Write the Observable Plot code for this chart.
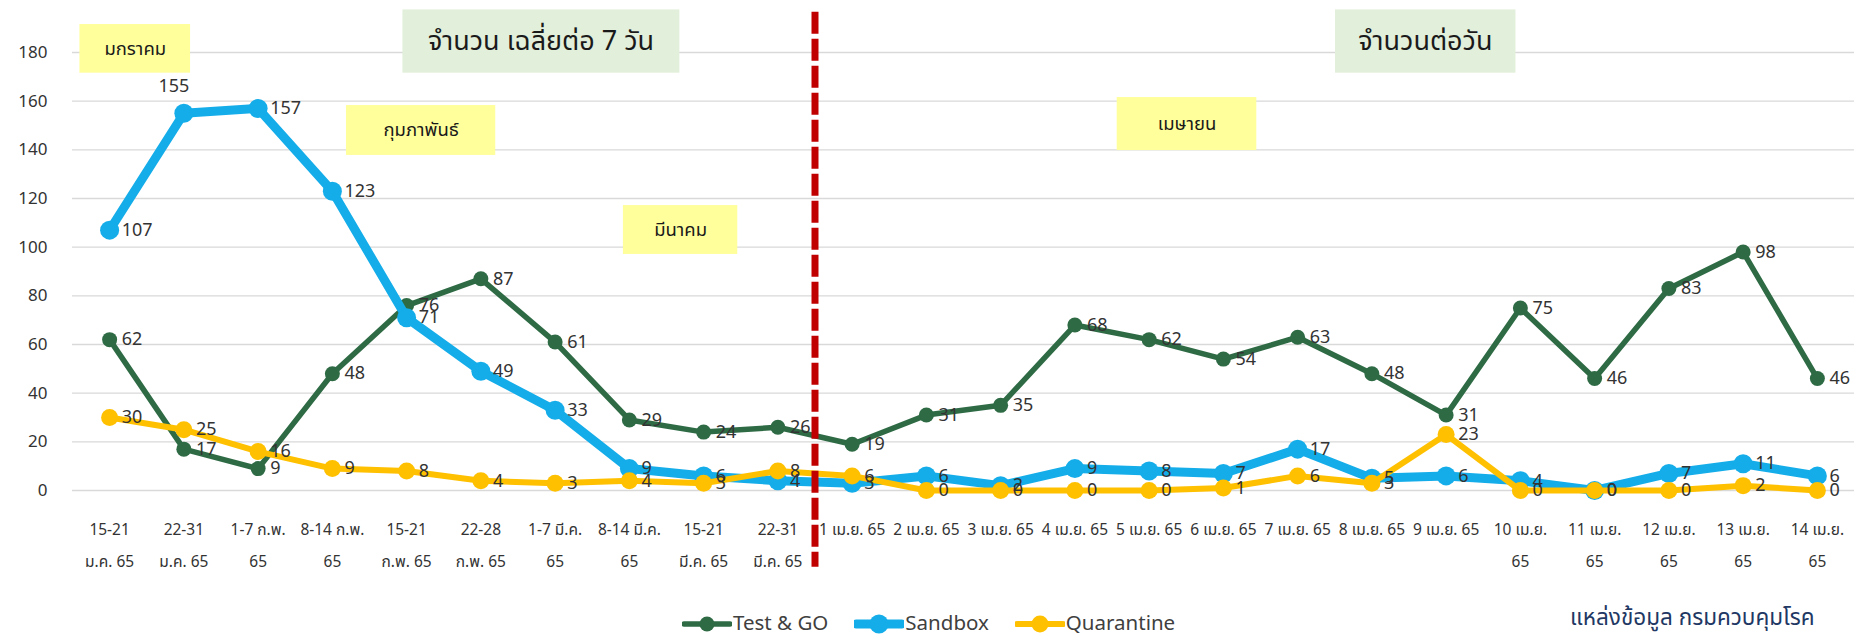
<!DOCTYPE html>
<html>
<head>
<meta charset="utf-8">
<script src="https://cdn.jsdelivr.net/npm/d3@7"></script>
<script src="https://cdn.jsdelivr.net/npm/@observablehq/plot@0.6"></script>
<style>
  body { margin: 0; background: #fff; font-family: "Tahoma", "Noto Sans Thai", "Loma", "Garuda", "Noto Sans", sans-serif; }
  #wrap { position: relative; width: 1854px; height: 640px; overflow: hidden; }
  #legend { position: absolute; top: 613px; left: 682px; display: flex; align-items: center; font-size: 20.5px; line-height: 22px; color: #404040; }
  #legend .item { display: flex; align-items: center; margin-right: 26px; }
  #legend svg { display: block; margin-right: 1px; }
  #source { position: absolute; top: 604px; left: 1570px; font-size: 22.5px; line-height: 28px; color: #1F3864; white-space: nowrap; }
</style>
</head>
<body>
<div id="wrap">
  <div id="chart"></div>
  <div id="legend"></div>
  <div id="source"></div>
</div>
<script>
// ---------- data ----------
const categories = [
  "15-21 ม.ค. 65", "22-31 ม.ค. 65", "1-7 ก.พ. 65", "8-14 ก.พ. 65", "15-21 ก.พ. 65",
  "22-28 ก.พ. 65", "1-7 มี.ค. 65", "8-14 มี.ค. 65", "15-21 มี.ค. 65", "22-31 มี.ค. 65",
  "1 เม.ย. 65", "2 เม.ย. 65", "3 เม.ย. 65", "4 เม.ย. 65", "5 เม.ย. 65", "6 เม.ย. 65",
  "7 เม.ย. 65", "8 เม.ย. 65", "9 เม.ย. 65", "10 เม.ย. 65", "11 เม.ย. 65", "12 เม.ย. 65",
  "13 เม.ย. 65", "14 เม.ย. 65"
];
const xTickLabels = [
  "15-21\nม.ค. 65", "22-31\nม.ค. 65", "1-7 ก.พ.\n65", "8-14 ก.พ.\n65", "15-21\nก.พ. 65",
  "22-28\nก.พ. 65", "1-7 มี.ค.\n65", "8-14 มี.ค.\n65", "15-21\nมี.ค. 65", "22-31\nมี.ค. 65",
  "1 เม.ย. 65", "2 เม.ย. 65", "3 เม.ย. 65", "4 เม.ย. 65", "5 เม.ย. 65", "6 เม.ย. 65",
  "7 เม.ย. 65", "8 เม.ย. 65", "9 เม.ย. 65", "10 เม.ย.\n65", "11 เม.ย.\n65", "12 เม.ย.\n65",
  "13 เม.ย.\n65", "14 เม.ย.\n65"
];
const testAndGo  = [62, 17, 9, 48, 76, 87, 61, 29, 24, 26, 19, 31, 35, 68, 62, 54, 63, 48, 31, 75, 46, 83, 98, 46];
const sandbox    = [107, 155, 157, 123, 71, 49, 33, 9, 6, 4, 3, 6, 2, 9, 8, 7, 17, 5, 6, 4, 0, 7, 11, 6];
const quarantine = [30, 25, 16, 9, 8, 4, 3, 4, 3, 8, 6, 0, 0, 0, 0, 1, 6, 3, 23, 0, 0, 0, 2, 0];
const seriesNames = ["Test & GO", "Sandbox", "Quarantine"];
const yTicks = [0, 20, 40, 60, 80, 100, 120, 140, 160, 180];
const periodTitles = ["จำนวน เฉลี่ยต่อ 7 วัน", "จำนวนต่อวัน"];
const monthNames = ["มกราคม", "กุมภาพันธ์", "มีนาคม", "เมษายน"];
const sourceText = "แหล่งข้อมูล กรมควบคุมโรค";

// ---------- styles ----------
const seriesValues = [testAndGo, sandbox, quarantine];
const colors = ["#2E6B45", "#14ADEA", "#FFC000"];
const lineWidths = [5.5, 9, 6];
const dotRadii = [7.5, 9.5, 8.5];

const rows = [];
seriesNames.forEach((s, k) => seriesValues[k].forEach((v, i) => rows.push({series: s, k, i, cat: categories[i], value: v})));

const font = "Tahoma, 'Noto Sans Thai', Loma, Garuda, 'Noto Sans', sans-serif";

const marks = [
  Plot.ruleY(yTicks, {stroke: "#D9D9D9", strokeWidth: 1.3}),
  // annotation boxes (title & month tags)
  Plot.rect([0], {x1: 3.95, x2: 7.68, y1: 171.5, y2: 197.5, fill: "#E2EFDA"}),
  Plot.rect([0], {x1: 16.51, x2: 18.94, y1: 171.5, y2: 197.5, fill: "#E2EFDA"}),
  Plot.text([periodTitles[0]], {x: 5.81, y: 184.5, text: d => d, fontSize: 27, fill: "#1a1a1a"}),
  Plot.text([periodTitles[1]], {x: 17.72, y: 184.5, text: d => d, fontSize: 27, fill: "#1a1a1a"}),
  Plot.rect([0], {x1: -0.40, x2: 1.09, y1: 171.5, y2: 191.5, fill: "#FFFF9C"}),
  Plot.rect([0], {x1: 3.19, x2: 5.20, y1: 137.7, y2: 158.2, fill: "#FFFF9C"}),
  Plot.rect([0], {x1: 6.92, x2: 8.46, y1: 97.0, y2: 117.1, fill: "#FFFF9C"}),
  Plot.rect([0], {x1: 13.57, x2: 15.45, y1: 139.7, y2: 161.5, fill: "#FFFF9C"}),
  Plot.text([monthNames[0]], {x: 0.345, y: 181.5, text: d => d, fontSize: 18.5, fill: "#1a1a1a"}),
  Plot.text([monthNames[1]], {x: 4.195, y: 148, text: d => d, fontSize: 18.5, fill: "#1a1a1a"}),
  Plot.text([monthNames[2]], {x: 7.69, y: 107, text: d => d, fontSize: 18.5, fill: "#1a1a1a"}),
  Plot.text([monthNames[3]], {x: 14.51, y: 150.6, text: d => d, fontSize: 18.5, fill: "#1a1a1a"})
];
seriesNames.forEach((s, k) => {
  const d = rows.filter(r => r.k === k);
  marks.push(Plot.line(d, {x: "i", y: "value", stroke: colors[k], strokeWidth: lineWidths[k], strokeLinejoin: "round"}));
  marks.push(Plot.dot(d, {x: "i", y: "value", r: dotRadii[k], fill: colors[k], stroke: "none"}));
});
const isAbove = r => r.k === 1 && r.i === 1;
marks.push(Plot.text(rows.filter(r => !isAbove(r)), {x: "i", y: "value", text: d => String(d.value), dx: 12, textAnchor: "start", fontSize: 18, fill: "#333"}));
marks.push(Plot.text(rows.filter(isAbove), {x: "i", y: "value", text: d => String(d.value), dx: -10, dy: -27, textAnchor: "middle", fontSize: 18, fill: "#333"}));
marks.push(Plot.ruleX([9.5], {y1: 196.5, y2: -31.5, stroke: "#C00000", strokeWidth: 7, strokeDasharray: "22,5"}));
marks.push(Plot.axisY({ticks: yTicks, tickSize: 0, tickPadding: 25, fontSize: 17, fill: "#333", label: null}));
marks.push(Plot.axisX({ticks: d3.range(categories.length), tickFormat: i => xTickLabels[i], tickSize: 0, tickPadding: 22, fontSize: 15.5, lineHeight: 2.05, fill: "#333", label: null}));

const chart = Plot.plot({
  width: 1854,
  height: 605,
  marginLeft: 72,
  marginRight: 0,
  marginTop: 52,
  marginBottom: 115,
  style: {fontFamily: font, background: "transparent", overflow: "visible"},
  x: {type: "linear", domain: [-0.5, categories.length - 0.5], axis: null, label: null},
  y: {domain: [0, 180], axis: null, label: null},
  marks
});
document.getElementById("chart").appendChild(chart);

// legend
const legend = document.getElementById("legend");
seriesNames.forEach((s, k) => {
  const item = document.createElement("div");
  item.className = "item";
  item.innerHTML = `<svg width="50" height="22"><line x1="2" x2="48" y1="11" y2="11" stroke="${colors[k]}" stroke-width="${lineWidths[k]}" stroke-linecap="round"/><circle cx="25" cy="11" r="${dotRadii[k]}" fill="${colors[k]}"/></svg><span>${s}</span>`;
  legend.appendChild(item);
});
document.getElementById("source").textContent = sourceText;
</script>
</body>
</html>
